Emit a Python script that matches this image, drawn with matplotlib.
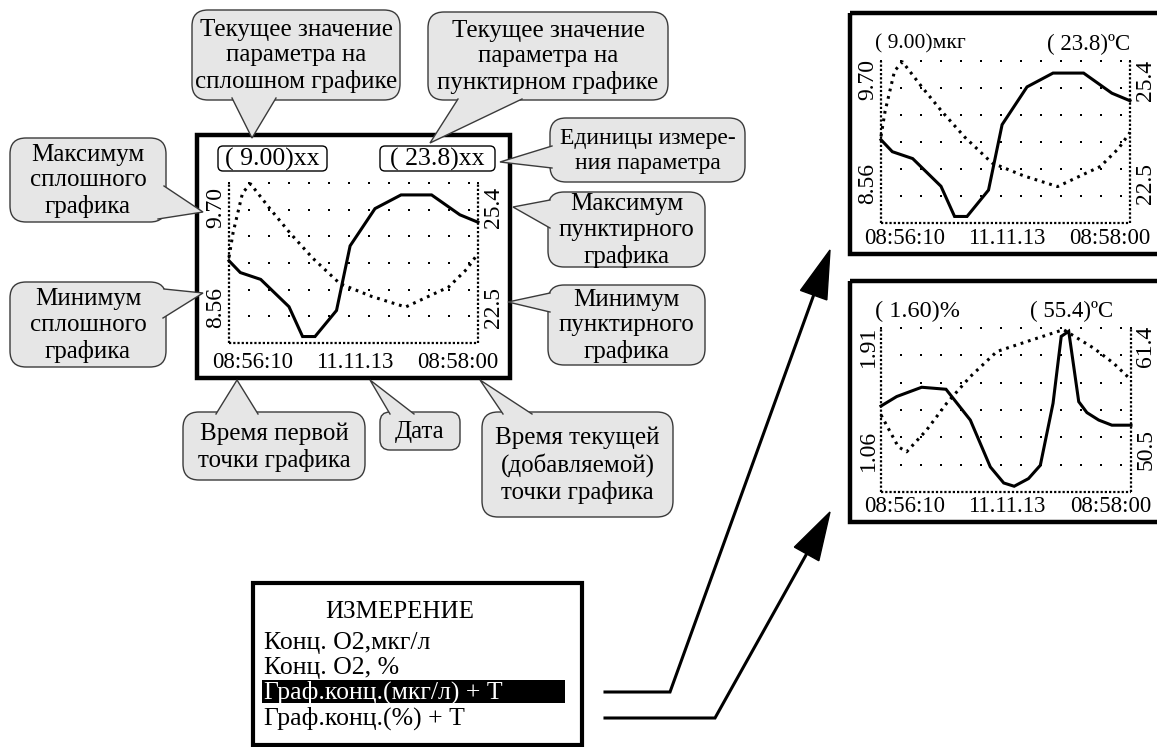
import numpy as np
import matplotlib
matplotlib.use("Agg")
import matplotlib.pyplot as plt
from matplotlib.patches import FancyBboxPatch, Polygon, Rectangle

plt.rcParams['font.family'] = ['Liberation Serif', 'DejaVu Serif']

# ---------------- data ----------------
# time in seconds since 08:56:10 (axis spans 08:56:10 .. 08:58:00)
t_conc1 = [0, 5, 14, 26.5, 32.5, 38, 47.5, 53.5, 64.5, 76, 89.5, 102, 110]
conc_mkg = [9.17, 9.075, 9.02, 8.80, 8.56, 8.56, 8.77, 9.29, 9.59, 9.70, 9.70, 9.54, 9.48]
t_temp1 = [0, 1.8, 6, 9.5, 18, 27, 37, 49, 63, 78, 97, 105, 110]
temp1 = [23.67, 24.25, 25.19, 25.40, 24.82, 24.24, 23.65, 23.05, 22.75, 22.50, 22.97, 23.39, 23.76]

t_conc2 = [0, 6.9, 17.9, 28.6, 39.3, 48.1, 54, 58.6, 64.9, 70.1, 75.7, 79.3, 82.6, 87, 90.6, 95.8, 101.6, 110]
conc_pct = [1.50, 1.552, 1.603, 1.592, 1.423, 1.166, 1.078, 1.06, 1.102, 1.175, 1.515, 1.882, 1.91,
            1.524, 1.464, 1.423, 1.395, 1.395]
t_temp2 = [0, 7.6, 11.3, 20.1, 28.9, 39.3, 51, 64.4, 80.3, 93.5, 102.3, 110]
temp2 = [53.79, 50.95, 50.50, 52.45, 54.83, 57.21, 59.45, 60.35, 61.40, 59.76, 58.41, 56.92]

time_labels = ["08:56:10", "11.11.13", "08:58:00"]
screen1_max = ["9.70", "25.4"]
screen1_min = ["8.56", "22.5"]
screen2_max = ["1.91", "61.4"]
screen2_min = ["1.06", "50.5"]
menu_title = "ИЗМЕРЕНИЕ"
menu_items = ["Конц. О2,мкг/л", "Конц. О2, %", "Граф.конц.(мкг/л) + Т", "Граф.конц.(%) + Т"]
menu_selected = 2

# y-ranges of the device autoscale (value at frame bottom / top)
lim_mkg = (8.508, 9.796)
lim_t1 = (21.653, 25.42)
lim_pct = (1.0285, 1.928)
lim_t2 = (46.915, 61.545)

W, H = 1157, 747
fig = plt.figure(figsize=(W / 100, H / 100), dpi=100)
ax = fig.add_axes([0, 0, 1, 1])
ax.set_xlim(0, W)
ax.set_ylim(H, 0)
ax.axis('off')

CALL_FC = '#e6e6e6'
CALL_EC = '#3a3a3a'
FS_CALL = 18
FS_SCR = 16.5


def inset(x0, y0, x1, y1):
    a = fig.add_axes([x0 / W, 1 - y1 / H, (x1 - x0) / W, (y1 - y0) / H])
    a.set_xlim(0, 110)
    a.axis('off')
    a.patch.set_alpha(0)
    return a


def screen_plot(frame, t_s, v_s, lim_s, t_d, v_d, lim_d):
    x0, y0, x1, y1 = frame
    a = inset(x0, y0, x1, y1)
    a.set_ylim(*lim_s)
    b = a.twinx()
    b.set_ylim(*lim_d)
    b.axis('off')
    tr = a.transAxes
    kw = dict(transform=tr, color='k', lw=1.6, ls=(0, (1, 0.9)), clip_on=False)
    a.plot([0, 0], [0, 1], **kw)
    a.plot([1, 1], [0, 1], **kw)
    a.plot([0, 1], [0, 0], **kw)
    wpx = x1 - x0
    ncol = int(wpx // 20)
    xs = [20 * k / wpx for k in range(0, ncol + 1)] + [1.0]
    for r in range(1, 7):
        pts = xs if r == 6 else xs[1:-1]
        a.scatter(pts, [r / 6] * len(pts), s=4.2, marker='s', color='k', linewidths=0,
                  transform=tr, clip_on=False)
    a.plot(t_s, v_s, color='k', lw=2.2, solid_joinstyle='miter', clip_on=False)
    b.plot(t_d, v_d, color='k', lw=2.2, ls=(0, (0.9, 1.6)), clip_on=False)
    return a


def callout(x0, y0, x1, y1, text, b1, b2, tip, fs=FS_CALL, r=16):
    box = FancyBboxPatch((x0, y0), x1 - x0, y1 - y0,
                         boxstyle=f"round,pad=0,rounding_size={r}",
                         fc=CALL_FC, ec=CALL_EC, lw=1.0, zorder=3)
    ax.add_patch(box)
    cx, cy = (x0 + x1) / 2, (y0 + y1) / 2
    b1 = np.array(b1, float)
    b2 = np.array(b2, float)
    c = np.array([cx, cy])
    d1 = b1 + (c - b1) / np.linalg.norm(c - b1) * 5
    d2 = b2 + (c - b2) / np.linalg.norm(c - b2) * 5
    ax.add_patch(Polygon([b1, tip, b2, d2, d1], closed=True, fc=CALL_FC, ec='none', zorder=4))
    ax.plot([b1[0], tip[0], b2[0]], [b1[1], tip[1], b2[1]], color=CALL_EC, lw=1.0, zorder=5,
            solid_joinstyle='miter')
    ax.text(cx, cy + 1, text, ha='center', va='center', fontsize=fs, linespacing=1.22, zorder=6)


def small_box(x0, y0, x1, y1, text):
    ax.add_patch(FancyBboxPatch((x0, y0), x1 - x0, y1 - y0, boxstyle="round,pad=0,rounding_size=5",
                                fc='white', ec='k', lw=1.0, zorder=3))
    ax.text((x0 + x1) / 2, (y0 + y1) / 2 + 1, text, ha='center', va='center', fontsize=18.5, zorder=4)


def screen_labels(frame, lmax, lmin, ymax, ymin, ybot):
    x0, y0, x1, y1 = frame
    for lab, yy in ((lmax[0], ymax), (lmin[0], ymin)):
        ax.text(x0 - 13, yy, lab, rotation=90, ha='center', va='center', fontsize=17)
    for lab, yy in ((lmax[1], ymax), (lmin[1], ymin)):
        ax.text(x1 + 15, yy, lab, rotation=90, ha='center', va='center', fontsize=17)
    ax.text(x0 - 17, ybot, time_labels[0], ha='left', va='center', fontsize=FS_SCR)
    ax.text((x0 + x1) / 2 + 1, ybot, time_labels[1], ha='center', va='center', fontsize=FS_SCR)
    ax.text(x1 + 20, ybot, time_labels[2], ha='right', va='center', fontsize=FS_SCR)


# ---------------- main annotated screen ----------------
ax.add_patch(Rectangle((197, 135), 313, 243, fill=False, ec='k', lw=3.2, zorder=2))
frame_main = (229, 183, 478, 343)
screen_plot(frame_main, t_conc1, conc_mkg, lim_mkg, t_temp1, temp1, lim_t1)
screen_labels(frame_main, screen1_max, screen1_min, 207, 307, 362)
small_box(218, 146, 327, 171, "( 9.00)xx")
small_box(380, 146, 495, 171, "( 23.8)xx")

# ---------------- right screens ----------------
ax.add_patch(Rectangle((850, 13), 320, 241, fill=False, ec='k', lw=3.2, zorder=2, clip_on=True))
frame_r1 = (881, 61, 1130, 223)
screen_plot(frame_r1, t_conc1, conc_mkg, lim_mkg, t_temp1, temp1, lim_t1)
screen_labels(frame_r1, screen1_max, screen1_min, 80, 184, 239)
ax.text(875, 44, "( 9.00)мкг", ha='left', va='center', fontsize=15.5)
ax.text(1047, 44, "( 23.8)ºC", ha='left', va='center', fontsize=FS_SCR)

ax.add_patch(Rectangle((850, 281), 320, 241, fill=False, ec='k', lw=3.2, zorder=2, clip_on=True))
frame_r2 = (881, 328, 1131, 492)
screen_plot(frame_r2, t_conc2, conc_pct, lim_pct, t_temp2, temp2, lim_t2)
screen_labels(frame_r2, screen2_max, screen2_min, 346, 450, 507)
ax.text(875, 311, "( 1.60)%", ha='left', va='center', fontsize=17.5)
ax.text(1030, 311, "( 55.4)ºC", ha='left', va='center', fontsize=FS_SCR)

# ---------------- callouts ----------------
callout(192, 10, 400, 100, "Текущее значение\nпараметра на\nсплошном графике",
        (232, 98), (276, 98), (252, 138))
callout(428, 12, 668, 100, "Текущее значение\nпараметра на\nпунктирном графике",
        (458, 99), (522, 99), (430, 143))
callout(550, 118, 745, 182, "Единицы измере-\nния параметра",
        (552, 146), (552, 168), (500, 162), fs=17)
callout(10, 138, 166, 222, "Максимум\nсплошного\nграфика",
        (164, 186), (158, 219), (203, 212))
callout(10, 282, 166, 367, "Минимум\nсплошного\nграфика",
        (164, 289), (163, 318), (203, 293))
callout(548, 192, 705, 267, "Максимум\nпунктирного\nграфика",
        (550, 200), (550, 228), (513, 207))
callout(548, 285, 705, 365, "Минимум\nпунктирного\nграфика",
        (550, 293), (550, 312), (508, 302))
callout(183, 412, 365, 480, "Время первой\nточки графика",
        (216, 414), (258, 414), (237, 380))
callout(380, 412, 460, 450, "Дата",
        (390, 414), (414, 414), (370, 380), r=10)
callout(482, 412, 673, 517, "Время текущей\n(добавляемой)\nточки графика",
        (503, 414), (532, 414), (480, 380))

# ---------------- menu ----------------
ax.add_patch(Rectangle((253, 583), 329, 162, fill=False, ec='k', lw=3.0, zorder=2))
ax.text(400, 612, menu_title, ha='center', va='center', fontsize=18)
item_y = [643, 668, 692, 718]
for i, (lab, yy) in enumerate(zip(menu_items, item_y)):
    if i == menu_selected:
        ax.add_patch(Rectangle((262, 680), 303, 23, fc='k', ec='none', zorder=2))
        ax.text(264, yy, lab, ha='left', va='center', fontsize=18.5, color='white', zorder=3)
    else:
        ax.text(264, yy, lab, ha='left', va='center', fontsize=18.5)


# ---------------- arrows ----------------
def arrow(start, corner, tip, hl=48, hw=14):
    corner = np.array(corner, float)
    tip = np.array(tip, float)
    d = tip - corner
    d /= np.linalg.norm(d)
    n = np.array([-d[1], d[0]])
    base = tip - d * hl
    ax.plot([start[0], corner[0], base[0]], [start[1], corner[1], base[1]], color='k', lw=2.2,
            solid_joinstyle='miter')
    ax.add_patch(Polygon([tip, base + n * hw, base - n * hw], closed=True, fc='k', ec='k', lw=1))


arrow((605, 692), (670, 692), (830, 250))
arrow((605, 718), (715, 718), (830, 512))

fig.savefig("out.png", dpi=100)
